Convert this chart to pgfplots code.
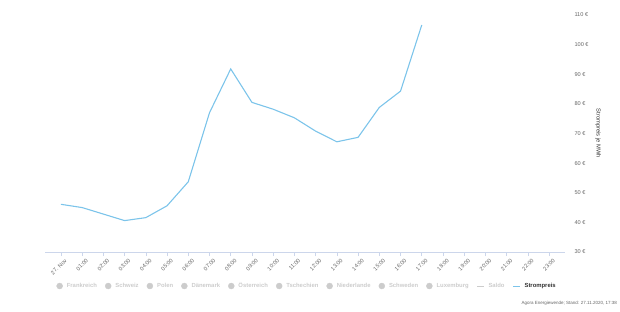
\documentclass[border=0pt]{standalone}
\usepackage{pgfplots}
\pgfplotsset{compat=1.18}
\usepackage{fontspec}
\setmainfont{Liberation Sans}
\definecolor{linec}{RGB}{124,196,234}
\definecolor{axc}{RGB}{204,214,235}
\definecolor{tickc}{RGB}{102,102,102}
\definecolor{lgray}{RGB}{204,204,204}
\definecolor{dark}{RGB}{51,51,51}
\begin{document}
\begin{tikzpicture}[x=1pt,y=1pt]
\path[use as bounding box] (0,0) rectangle (620,311);
\begin{axis}[
  at={(45pt,59pt)}, anchor=south west,
  scale only axis, width=520pt, height=237pt,
  xmin=-0.75, xmax=23.75, ymin=30, ymax=110,
  axis x line*=bottom, axis y line*=right,
  x axis line style={draw=axc, line width=0.8pt, -},
  y axis line style={draw=none},
  xtick={0,...,23},
  xticklabels={27. Nov,01:00,02:00,03:00,04:00,05:00,06:00,07:00,08:00,09:00,10:00,11:00,12:00,13:00,14:00,15:00,16:00,17:00,18:00,19:00,20:00,21:00,22:00,23:00},
  xtick style={draw=axc, line width=0.6pt},
  tick align=outside, major tick length=4pt,
  xticklabel style={rotate=45, anchor=north east, font=\fontsize{5.6}{6}\selectfont, text=tickc, inner sep=0pt, yshift=-4pt, xshift=1pt},
  ytick={30,40,...,110},
  yticklabels={30 €,40 €,50 €,60 €,70 €,80 €,90 €,100 €,110 €},
  ytick style={draw=none},
  yticklabel style={font=\fontsize{5.6}{6}\selectfont, text=tickc, anchor=west, xshift=2pt},
  ylabel={Strompreis je MWh},
  ylabel style={rotate=180, font=\fontsize{5.8}{6}\selectfont, text=dark},
  clip=false,
  legend columns=11,
  legend style={at={(0.504,-0.1435)}, anchor=center, draw=none, fill=none,
    font=\bfseries\fontsize{5.9}{6}\selectfont, inner sep=0pt,
    /tikz/every even column/.append style={column sep=6pt},
    /tikz/every odd column/.append style={column sep=2pt}},
]
\addplot[color=linec, line width=1.1pt, forget plot] coordinates {
(0,46.1) (1,45.0) (2,42.8) (3,40.6) (4,41.6) (5,45.6) (6,53.7) (7,77.0) (8,91.8)
(9,80.5) (10,78.2) (11,75.3) (12,70.8) (13,67.2) (14,68.7) (15,78.8) (16,84.3) (17,106.6)
};
\addlegendimage{legend image code/.code={\fill[lgray] (3pt,0pt) circle (3pt);}}
\addlegendentry{\textcolor{lgray}{Frankreich}}
\addlegendimage{legend image code/.code={\fill[lgray] (3pt,0pt) circle (3pt);}}
\addlegendentry{\textcolor{lgray}{Schweiz}}
\addlegendimage{legend image code/.code={\fill[lgray] (3pt,0pt) circle (3pt);}}
\addlegendentry{\textcolor{lgray}{Polen}}
\addlegendimage{legend image code/.code={\fill[lgray] (3pt,0pt) circle (3pt);}}
\addlegendentry{\textcolor{lgray}{Dänemark}}
\addlegendimage{legend image code/.code={\fill[lgray] (3pt,0pt) circle (3pt);}}
\addlegendentry{\textcolor{lgray}{Österreich}}
\addlegendimage{legend image code/.code={\fill[lgray] (3pt,0pt) circle (3pt);}}
\addlegendentry{\textcolor{lgray}{Tschechien}}
\addlegendimage{legend image code/.code={\fill[lgray] (3pt,0pt) circle (3pt);}}
\addlegendentry{\textcolor{lgray}{Niederlande}}
\addlegendimage{legend image code/.code={\fill[lgray] (3pt,0pt) circle (3pt);}}
\addlegendentry{\textcolor{lgray}{Schweden}}
\addlegendimage{legend image code/.code={\fill[lgray] (3pt,0pt) circle (3pt);}}
\addlegendentry{\textcolor{lgray}{Luxemburg}}
\addlegendimage{legend image code/.code={\draw[lgray, line width=0.8pt] (0pt,0pt) -- (7pt,0pt);}}
\addlegendentry{\textcolor{lgray}{Saldo}}
\addlegendimage{legend image code/.code={\draw[linec, line width=1pt] (0pt,0pt) -- (7pt,0pt);}}
\addlegendentry{\textcolor{dark}{Strompreis}}
\end{axis}
\node[anchor=east, font=\fontsize{4.5}{5}\selectfont, text=tickc, inner sep=0pt] at (617,8) {Agora Energiewende; Stand: 27.11.2020, 17:38};
\end{tikzpicture}
\end{document}
